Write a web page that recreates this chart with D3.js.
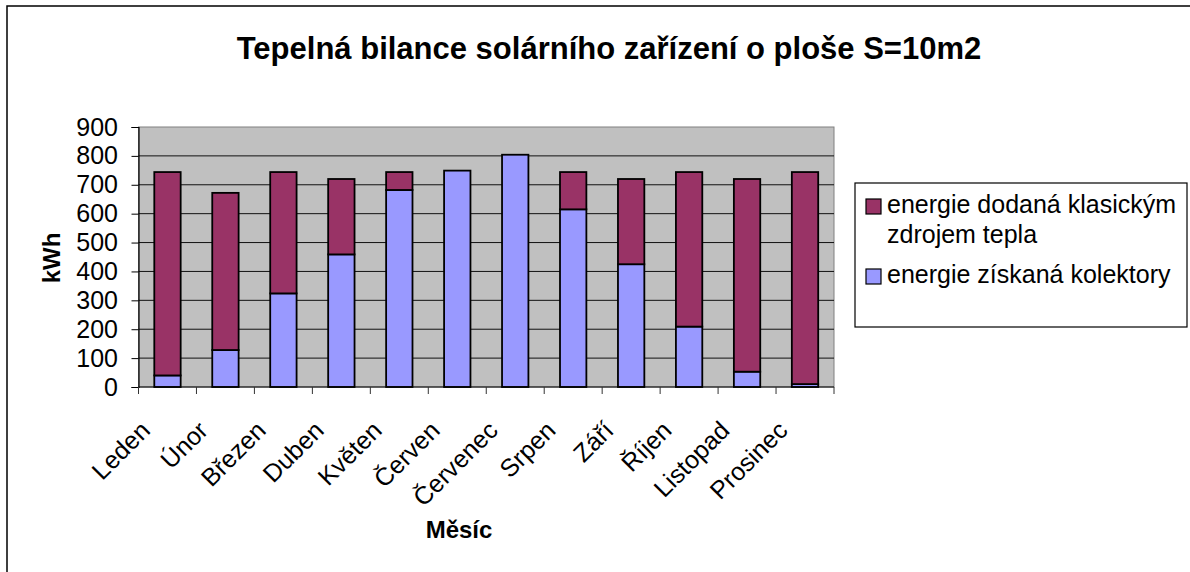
<!DOCTYPE html>
<html>
<head>
<meta charset="utf-8">
<script src="https://cdn.jsdelivr.net/npm/d3@7"></script>
<style>
  html, body { margin: 0; padding: 0; background: #fff; }
  svg { display: block; font-family: "Liberation Sans", Arial, sans-serif; }
</style>
</head>
<body>
<svg id="chart" width="1190" height="572"></svg>
<script>
// Monthly heat balance of a 10 m2 solar installation (kWh)
const months = ["Leden", "Únor", "Březen", "Duben", "Květen", "Červen",
                "Červenec", "Srpen", "Září", "Říjen", "Listopad", "Prosinec"];
const collectorEnergy = [40, 128, 324, 459, 682, 749, 804, 615, 425, 209, 53, 10];
const classicEnergy   = [704, 544, 420, 261, 62, 0, 0, 129, 295, 535, 667, 734];
const yTicks = [0, 100, 200, 300, 400, 500, 600, 700, 800, 900];
const seriesColors = { classic: "#993366", collector: "#9999FF" };

const svg = d3.select("#chart");
const W = 1190, H = 572;
const FONT = "Liberation Sans, Arial, sans-serif";

// outer chart frame
svg.append("rect")
  .attr("x", 7).attr("y", 6).attr("width", W + 10).attr("height", H + 10)
  .attr("fill", "#fff").attr("stroke", "#000").attr("stroke-width", 1.5);

const plot = { left: 138.5, right: 834, top: 127, bottom: 387 };

const x = d3.scaleBand().domain(months)
  .range([plot.left, plot.right]).paddingInner(0.545).paddingOuter(0.2725);
const xCat = d3.scaleBand().domain(months).range([plot.left, plot.right]);
const y = d3.scaleLinear().domain([0, 900]).range([plot.bottom, plot.top]);

// plot background
svg.append("rect")
  .attr("x", plot.left).attr("y", plot.top)
  .attr("width", plot.right - plot.left).attr("height", plot.bottom - plot.top)
  .attr("fill", "#C0C0C0").attr("stroke", "#808080").attr("stroke-width", 1);

// horizontal gridlines
svg.append("g").selectAll("line")
  .data(yTicks.filter(d => d > 0 && d < 900))
  .join("line")
  .attr("x1", plot.left).attr("x2", plot.right)
  .attr("y1", d => y(d)).attr("y2", d => y(d))
  .attr("stroke", "#111").attr("stroke-width", 1);

// stacked bars
const stackData = months.map((m, i) => ({ month: m, collector: collectorEnergy[i], classic: classicEnergy[i] }));
const stack = d3.stack().keys(["collector", "classic"])(stackData);

svg.append("g").selectAll("g")
  .data(stack)
  .join("g")
  .attr("fill", s => seriesColors[s.key])
  .selectAll("rect")
  .data(s => s.filter(d => d[1] - d[0] > 0))
  .join("rect")
  .attr("x", d => x(d.data.month))
  .attr("width", x.bandwidth())
  .attr("y", d => y(d[1]))
  .attr("height", d => y(d[0]) - y(d[1]))
  .attr("stroke", "#000").attr("stroke-width", 1.8);

// y axis
const yAxis = svg.append("g")
  .attr("transform", `translate(${plot.left},0)`)
  .call(d3.axisLeft(y).tickValues(yTicks).tickSize(7).tickPadding(13.5).tickFormat(d3.format("d")));
yAxis.select(".domain").attr("stroke", "#000").attr("stroke-width", 1.2);
yAxis.selectAll(".tick line").attr("stroke", "#000");
yAxis.selectAll("text").attr("font-size", 25).attr("fill", "#000").attr("font-family", FONT);

// x axis: ticks at category boundaries
const xAxisG = svg.append("g");
xAxisG.append("line")
  .attr("x1", plot.left).attr("x2", plot.right)
  .attr("y1", plot.bottom).attr("y2", plot.bottom)
  .attr("stroke", "#000").attr("stroke-width", 1.2);
const boundaries = months.map(m => xCat(m)).concat([plot.right]);
xAxisG.selectAll("line.tick")
  .data(boundaries)
  .join("line").attr("class", "tick")
  .attr("x1", d => d).attr("x2", d => d)
  .attr("y1", plot.bottom).attr("y2", plot.bottom + 7)
  .attr("stroke", "#333");

xAxisG.selectAll("text")
  .data(months)
  .join("text")
  .attr("transform", m => `translate(${xCat(m) + xCat.bandwidth() / 2 - 16},${plot.bottom + 45}) rotate(-45)`)
  .attr("text-anchor", "end")
  .attr("font-size", 25)
  .attr("fill", "#000")
  .text(m => m);

// titles
svg.append("text")
  .attr("x", 609).attr("y", 59)
  .attr("text-anchor", "middle")
  .attr("font-size", 31).attr("font-weight", "bold")
  .text("Tepelná bilance solárního zařízení o ploše S=10m2");

svg.append("text")
  .attr("transform", `translate(60,258) rotate(-90)`)
  .attr("text-anchor", "middle")
  .attr("font-size", 24).attr("font-weight", "bold")
  .text("kWh");

svg.append("text")
  .attr("x", 459).attr("y", 538)
  .attr("text-anchor", "middle")
  .attr("font-size", 24).attr("font-weight", "bold")
  .text("Měsíc");

// legend
const legend = svg.append("g");
legend.append("rect")
  .attr("x", 855).attr("y", 183).attr("width", 332).attr("height", 144)
  .attr("fill", "#fff").attr("stroke", "#000").attr("stroke-width", 1.2);

const legendItems = [
  { color: seriesColors.classic, lines: ["energie dodaná klasickým", "zdrojem tepla"], y: 213 },
  { color: seriesColors.collector, lines: ["energie získaná kolektory"], y: 283 }
];
legendItems.forEach(item => {
  legend.append("rect")
    .attr("x", 866).attr("y", item.y - 14).attr("width", 15).attr("height", 15)
    .attr("fill", item.color).attr("stroke", "#000").attr("stroke-width", 1.2);
  const t = legend.append("text")
    .attr("x", 887).attr("y", item.y)
    .attr("font-size", 25).attr("fill", "#000");
  item.lines.forEach((line, i) => {
    t.append("tspan").attr("x", 887).attr("dy", i === 0 ? 0 : 30).text(line);
  });
});
</script>
</body>
</html>
